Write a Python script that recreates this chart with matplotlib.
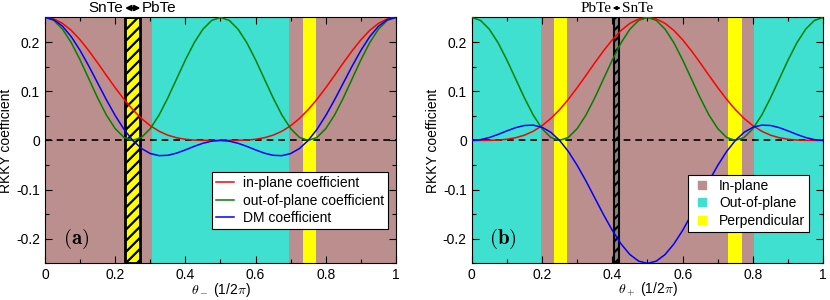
import numpy as np
import matplotlib
matplotlib.use('Agg')
import matplotlib.pyplot as plt
from matplotlib.lines import Line2D
from matplotlib.ticker import MultipleLocator, FuncFormatter

plt.rcParams['font.family'] = ['Liberation Sans', 'DejaVu Sans']
plt.rcParams['mathtext.fontset'] = 'cm'
plt.rcParams['axes.unicode_minus'] = False
plt.rcParams['hatch.linewidth'] = 1.6

# sample positions theta (1/2pi)
theta = np.linspace(0, 1, 41)

# panel (a): theta_-
inplane_a = [0.25, 0.2469, 0.2379, 0.2235, 0.2045, 0.1821, 0.1576, 0.1321, 0.1071, 0.0836,
             0.0625, 0.0445, 0.0298, 0.0186, 0.0106, 0.0054, 0.0023, 0.0007, 0.0002, 0.0, 0.0,
             0.0, 0.0002, 0.0007, 0.0023, 0.0054, 0.0106, 0.0186, 0.0298, 0.0445, 0.0625,
             0.0836, 0.1071, 0.1321, 0.1576, 0.1821, 0.2045, 0.2235, 0.2379, 0.2469, 0.25]
outplane_a = [0.25, 0.2439, 0.2261, 0.1985, 0.1636, 0.125, 0.0864, 0.0515, 0.0239, 0.0061,
              0.0, 0.0061, 0.0239, 0.0515, 0.0864, 0.125, 0.1636, 0.1985, 0.2261, 0.2439, 0.25,
              0.2439, 0.2261, 0.1985, 0.1636, 0.125, 0.0864, 0.0515, 0.0239, 0.0061, 0.0,
              0.0061, 0.0239, 0.0515, 0.0864, 0.125, 0.1636, 0.1985, 0.2261, 0.2439, 0.25]
dm_a = [0.25, 0.2454, 0.2320, 0.2106, 0.1829, 0.1509, 0.1167, 0.0825, 0.0506, 0.0226,
        0.0, -0.0165, -0.0267, -0.0310, -0.0303, -0.0259, -0.0193, -0.0121, -0.0058, -0.0015, 0.0,
        -0.0015, -0.0058, -0.0121, -0.0193, -0.0259, -0.0303, -0.0310, -0.0267, -0.0165, 0.0,
        0.0226, 0.0506, 0.0825, 0.1167, 0.1509, 0.1829, 0.2106, 0.2320, 0.2454, 0.25]

# panel (b): theta_+
inplane_b = [0.0, 0.0, 0.0002, 0.0007, 0.0023, 0.0054, 0.0106, 0.0186, 0.0298, 0.0445,
             0.0625, 0.0836, 0.1071, 0.1321, 0.1576, 0.1821, 0.2045, 0.2235, 0.2379, 0.2469, 0.25,
             0.2469, 0.2379, 0.2235, 0.2045, 0.1821, 0.1576, 0.1321, 0.1071, 0.0836, 0.0625,
             0.0445, 0.0298, 0.0186, 0.0106, 0.0054, 0.0023, 0.0007, 0.0002, 0.0, 0.0]
outplane_b = list(outplane_a)
dm_b = [0.0, 0.0015, 0.0058, 0.0121, 0.0193, 0.0259, 0.0303, 0.0310, 0.0267, 0.0165,
        0.0, -0.0226, -0.0506, -0.0825, -0.1167, -0.1509, -0.1829, -0.2106, -0.2320, -0.2454, -0.25,
        -0.2454, -0.2320, -0.2106, -0.1829, -0.1509, -0.1167, -0.0825, -0.0506, -0.0226, 0.0,
        0.0165, 0.0267, 0.0310, 0.0303, 0.0259, 0.0193, 0.0121, 0.0058, 0.0015, 0.0]

# phase regions (start, end, kind)
regions_a = [(0.0, 0.304, 'in'), (0.304, 0.696, 'out'), (0.696, 1.0, 'in'),
             (0.228, 0.272, 'perp'), (0.734, 0.771, 'perp')]
regions_b = [(0.0, 0.196, 'out'), (0.196, 0.804, 'in'), (0.804, 1.0, 'out'),
             (0.234, 0.271, 'perp'), (0.730, 0.768, 'perp')]
material_a = (0.228, 0.272)
material_b = (0.405, 0.420)

colors = {'in': '#bc8f8f', 'out': '#40e0d0', 'perp': '#ffff00'}


def style_axes(ax, xlabel):
    ax.set_xlim(0, 1)
    ax.set_ylim(-0.25, 0.25)
    ax.xaxis.set_major_locator(MultipleLocator(0.2))
    ax.xaxis.set_minor_locator(MultipleLocator(0.1))
    ax.yaxis.set_major_locator(MultipleLocator(0.1))
    ax.yaxis.set_minor_locator(MultipleLocator(0.05))
    fmt = FuncFormatter(lambda v, p: '%g' % round(v, 3))
    ax.xaxis.set_major_formatter(fmt)
    ax.yaxis.set_major_formatter(fmt)
    ax.tick_params(which='both', direction='in', top=True, right=True, labelsize=10, width=0.8)
    ax.tick_params(which='major', length=5)
    ax.tick_params(which='minor', length=3)
    ax.set_xlabel(xlabel, fontsize=10, labelpad=-1)
    ax.set_ylabel('RKKY coefficient', fontsize=10, labelpad=2)
    for s in ax.spines.values():
        s.set_linewidth(0.8)


def draw_panel(ax, regions, material, ip, op, dm, hatch_face, edge_lw):
    for x0, x1, kind in regions:
        ax.axvspan(x0, x1, color=colors[kind], lw=0, zorder=0)
    ax.axvspan(material[0], material[1], facecolor=hatch_face, edgecolor='black',
               hatch='///', lw=edge_lw, zorder=1)
    ax.axhline(0, color='black', ls='--', lw=1.2, dashes=(4, 3), zorder=2)
    ax.plot(theta, ip, color='red', lw=1.1, zorder=3, label='in-plane coefficient')
    ax.plot(theta, op, color='green', lw=1.1, zorder=3, label='out-of-plane coefficient')
    ax.plot(theta, dm, color='blue', lw=1.1, zorder=3, label='DM coefficient')


fig = plt.figure(figsize=(8.3, 3.0), dpi=100)
axa = fig.add_axes([0.0542, 0.122, 0.4229, 0.82])
axb = fig.add_axes([0.5683, 0.122, 0.4236, 0.82])

draw_panel(axa, regions_a, material_a, inplane_a, outplane_a, dm_a, 'yellow', 2.0)
style_axes(axa, r'$\theta_-$ (1/2$\pi$)')
leg = axa.legend(loc='lower right', bbox_to_anchor=(0.977, 0.139), borderaxespad=0,
                 fontsize=10, fancybox=False, edgecolor='black', framealpha=1,
                 handlelength=1.3, handletextpad=0.6, labelspacing=0.25, borderpad=0.3)
leg.get_frame().set_linewidth(0.8)
axa.text(0.05, -0.2, r'$\mathbf{(a)}$', fontsize=15, ha='left', va='center')

draw_panel(axb, regions_b, material_b, inplane_b, outplane_b, dm_b, '#8f8080', 1.5)
style_axes(axb, r'$\theta_+$ (1/2$\pi$)')
handles = [Line2D([], [], ls='none', marker='s', ms=6, color=colors['in']),
           Line2D([], [], ls='none', marker='s', ms=6, color=colors['out']),
           Line2D([], [], ls='none', marker='s', ms=6, color=colors['perp'])]
leg = axb.legend(handles, ['In-plane', 'Out-of-plane', 'Perpendicular'],
                 loc='lower right', bbox_to_anchor=(0.960, 0.128), borderaxespad=0,
                 fontsize=10, fancybox=False, edgecolor='black', framealpha=1,
                 handlelength=1.3, handletextpad=0.6, labelspacing=0.25, borderpad=0.3)
leg.get_frame().set_linewidth(0.8)
axb.text(0.05, -0.2, r'$\mathbf{(b)}$', fontsize=15, ha='left', va='center')

# material labels above the hatched boxes
ytop = 1.038
axa.text(material_a[0] - 0.005, ytop, 'SnTe', transform=axa.get_xaxis_transform(),
         ha='right', va='center', fontsize=11)
axa.text(material_a[1] + 0.005, ytop, 'PbTe', transform=axa.get_xaxis_transform(),
         ha='left', va='center', fontsize=11)
axa.annotate('', xy=(material_a[0], ytop), xytext=(material_a[1], ytop),
             xycoords=axa.get_xaxis_transform(),
             arrowprops=dict(arrowstyle='<|-|>', color='black', lw=1.4,
                             mutation_scale=8, shrinkA=0, shrinkB=0))
axb.text(material_b[0] - 0.008, ytop, 'PbTe', transform=axb.get_xaxis_transform(),
         ha='right', va='center', fontsize=11, family='Liberation Serif')
axb.text(material_b[1] + 0.008, ytop, 'SnTe', transform=axb.get_xaxis_transform(),
         ha='left', va='center', fontsize=11, family='Liberation Serif')
axb.annotate('', xy=(material_b[0] - 0.004, ytop), xytext=(material_b[1] + 0.004, ytop),
             xycoords=axb.get_xaxis_transform(),
             arrowprops=dict(arrowstyle='<|-|>', color='black', lw=1.0,
                             mutation_scale=5, shrinkA=0, shrinkB=0))

fig.savefig('out.png', dpi=100)
